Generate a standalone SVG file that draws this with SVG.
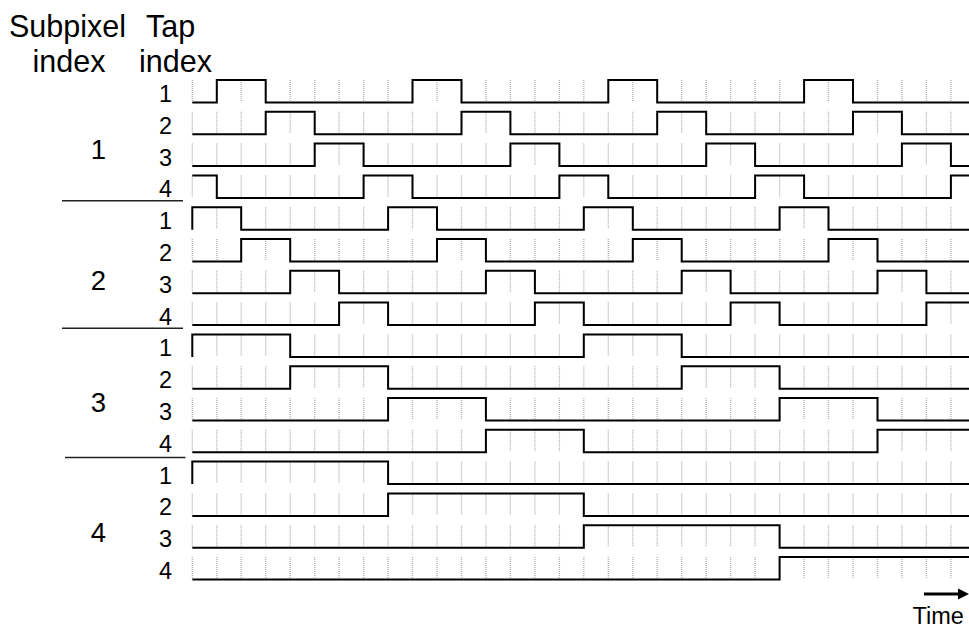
<svg xmlns="http://www.w3.org/2000/svg" xmlns:xlink="http://www.w3.org/1999/xlink" width="969" height="627" viewBox="0 0 969 627">
<style>
text{font-family:"Liberation Sans",Arial,sans-serif;fill:#000}
.hdr{font-size:30.5px}
.tap{font-size:23.5px;text-anchor:end}
.sp{font-size:27.5px;text-anchor:middle}
.time{font-size:23.5px}
.sig{fill:none;stroke:#000;stroke-width:2;stroke-linejoin:miter}
.grid{fill:none;stroke:#b0b0b0;stroke-width:1.3;stroke-dasharray:1 1}
.sep{stroke:#222;stroke-width:1.5}
</style>
<defs>
<path id="g" class="grid" d="M192.3 -22.5v21.5M216.8 -22.5v21.5M241.2 -22.5v21.5M265.7 -22.5v21.5M290.2 -22.5v21.5M314.7 -22.5v21.5M339.1 -22.5v21.5M363.6 -22.5v21.5M388.1 -22.5v21.5M412.5 -22.5v21.5M437 -22.5v21.5M461.5 -22.5v21.5M485.9 -22.5v21.5M510.4 -22.5v21.5M534.9 -22.5v21.5M559.4 -22.5v21.5M583.8 -22.5v21.5M608.3 -22.5v21.5M632.8 -22.5v21.5M657.2 -22.5v21.5M681.7 -22.5v21.5M706.2 -22.5v21.5M730.6 -22.5v21.5M755.1 -22.5v21.5M779.6 -22.5v21.5M804.1 -22.5v21.5M828.5 -22.5v21.5M853 -22.5v21.5M877.5 -22.5v21.5M901.9 -22.5v21.5M926.4 -22.5v21.5M950.9 -22.5v21.5"/>
</defs>
<rect width="969" height="627" fill="#fff"/>
<g id="headers">
<text class="hdr" x="9" y="36.5">Subpixel</text>
<text class="hdr" x="146" y="36.5">Tap</text>
<text class="hdr" x="32.5" y="71.5">index</text>
<text class="hdr" x="139" y="71.5">index</text>
</g>
<g id="grid">
<use xlink:href="#g" transform="translate(0,102.5)"/>
<use xlink:href="#g" transform="translate(0,134.3)"/>
<use xlink:href="#g" transform="translate(0,166.1)"/>
<use xlink:href="#g" transform="translate(0,197.9)"/>
<use xlink:href="#g" transform="translate(0,229.7)"/>
<use xlink:href="#g" transform="translate(0,261.5)"/>
<use xlink:href="#g" transform="translate(0,293.3)"/>
<use xlink:href="#g" transform="translate(0,325.1)"/>
<use xlink:href="#g" transform="translate(0,356.9)"/>
<use xlink:href="#g" transform="translate(0,388.7)"/>
<use xlink:href="#g" transform="translate(0,420.5)"/>
<use xlink:href="#g" transform="translate(0,452.3)"/>
<use xlink:href="#g" transform="translate(0,484.1)"/>
<use xlink:href="#g" transform="translate(0,515.9)"/>
<use xlink:href="#g" transform="translate(0,547.7)"/>
<use xlink:href="#g" transform="translate(0,579.5)"/>
</g>
<g id="separators">
<line class="sep" x1="62" y1="200.7" x2="183" y2="200.7"/>
<line class="sep" x1="62" y1="328.3" x2="183" y2="328.3"/>
<line class="sep" x1="65" y1="457.5" x2="185.5" y2="457.5"/>
</g>
<g id="subpixel-1">
<text class="sp" x="98.5" y="158.5">1</text>
<text class="tap" x="172" y="102">1</text>
<text class="tap" x="172" y="133.8">2</text>
<text class="tap" x="172" y="165.6">3</text>
<text class="tap" x="172" y="197.4">4</text>
<path class="sig" transform="translate(0,102.5)" d="M192.3 0H216.8V-22.5H265.7V0H412.5V-22.5H461.5V0H608.3V-22.5H657.2V0H804.1V-22.5H853V0H969"/>
<path class="sig" transform="translate(0,134.3)" d="M192.3 0H265.7V-22.5H314.7V0H461.5V-22.5H510.4V0H657.2V-22.5H706.2V0H853V-22.5H901.9V0H969"/>
<path class="sig" transform="translate(0,166.1)" d="M192.3 0H314.7V-22.5H363.6V0H510.4V-22.5H559.4V0H706.2V-22.5H755.1V0H901.9V-22.5H950.9V0H969"/>
<path class="sig" transform="translate(0,197.9)" d="M192.3 -22.5H216.8V0H363.6V-22.5H412.5V0H559.4V-22.5H608.3V0H755.1V-22.5H804.1V0H950.9V-22.5H969"/>
</g>
<g id="subpixel-2">
<text class="sp" x="98.5" y="290">2</text>
<text class="tap" x="172" y="229.2">1</text>
<text class="tap" x="172" y="261">2</text>
<text class="tap" x="172" y="292.8">3</text>
<text class="tap" x="172" y="324.6">4</text>
<path class="sig" transform="translate(0,229.7)" d="M192.3 0V-22.5H241.2V0H388.1V-22.5H437V0H583.8V-22.5H632.8V0H779.6V-22.5H828.5V0H969"/>
<path class="sig" transform="translate(0,261.5)" d="M192.3 0H241.2V-22.5H290.2V0H437V-22.5H485.9V0H632.8V-22.5H681.7V0H828.5V-22.5H877.5V0H969"/>
<path class="sig" transform="translate(0,293.3)" d="M192.3 0H290.2V-22.5H339.1V0H485.9V-22.5H534.9V0H681.7V-22.5H730.6V0H877.5V-22.5H926.4V0H969"/>
<path class="sig" transform="translate(0,325.1)" d="M192.3 0H339.1V-22.5H388.1V0H534.9V-22.5H583.8V0H730.6V-22.5H779.6V0H926.4V-22.5H969"/>
</g>
<g id="subpixel-3">
<text class="sp" x="98.5" y="411.7">3</text>
<text class="tap" x="172" y="356.4">1</text>
<text class="tap" x="172" y="388.2">2</text>
<text class="tap" x="172" y="420">3</text>
<text class="tap" x="172" y="451.8">4</text>
<path class="sig" transform="translate(0,356.9)" d="M192.3 0V-22.5H290.2V0H583.8V-22.5H681.7V0H969"/>
<path class="sig" transform="translate(0,388.7)" d="M192.3 0H290.2V-22.5H388.1V0H681.7V-22.5H779.6V0H969"/>
<path class="sig" transform="translate(0,420.5)" d="M192.3 0H388.1V-22.5H485.9V0H779.6V-22.5H877.5V0H969"/>
<path class="sig" transform="translate(0,452.3)" d="M192.3 0H485.9V-22.5H583.8V0H877.5V-22.5H969"/>
</g>
<g id="subpixel-4">
<text class="sp" x="98.5" y="541.7">4</text>
<text class="tap" x="172" y="483.6">1</text>
<text class="tap" x="172" y="515.4">2</text>
<text class="tap" x="172" y="547.2">3</text>
<text class="tap" x="172" y="579">4</text>
<path class="sig" transform="translate(0,484.1)" d="M192.3 0V-22.5H388.1V0H969"/>
<path class="sig" transform="translate(0,515.9)" d="M192.3 0H388.1V-22.5H583.8V0H969"/>
<path class="sig" transform="translate(0,547.7)" d="M192.3 0H583.8V-22.5H779.6V0H969"/>
<path class="sig" transform="translate(0,579.5)" d="M192.3 0H779.6V-22.5H969"/>
</g>
<g id="time-axis">
<line x1="924" y1="594" x2="960" y2="594" stroke="#000" stroke-width="3"/>
<polygon points="958,588.5 969,594 958,599.5" fill="#000"/>
<text class="time" x="912.5" y="623.5">Time</text>
</g>
</svg>
